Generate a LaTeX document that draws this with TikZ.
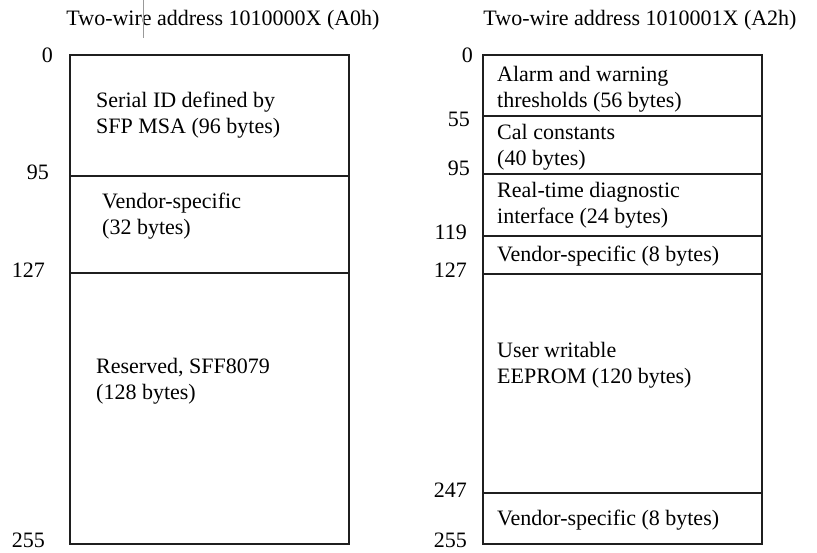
\documentclass[tikz,border=0pt]{standalone}
\usepackage{fontspec}
\setmainfont{Liberation Serif}
\begin{document}
\begin{tikzpicture}[x=1pt,y=-1pt,
  box/.style={draw=black!88,line width=1.3pt},
  txt/.style={anchor=west,align=left,inner sep=0pt,font=\fontsize{22}{26}\selectfont},
  num/.style={anchor=east,inner sep=0pt,font=\fontsize{22}{26}\selectfont},
  ttl/.style={inner sep=0pt,font=\fontsize{22}{26}\selectfont}]
\path[use as bounding box,fill=white] (0,0) rectangle (817,552);
% titles
\node[ttl] (t1) at (223,20) {Two-wire address 1010000X (A0h)};
\node[ttl] (t2) at (640,20) {Two-wire address 1010001X (A2h)};
\draw[draw=black!40,line width=0.8pt] (143,0) -- (143,38);
% left map
\draw[box] (70,55) rectangle (349,544);
\draw[box] (70,176) -- (349,176);
\draw[box] (70,273) -- (349,273);
\node[txt] (l1) at (96,115) {Serial ID defined by\\SFP MSA (96 bytes)};
\node[txt] (l2) at (102,216) {Vendor-specific\\(32 bytes)};
\node[txt] (l3) at (96,381) {Reserved, SFF8079\\(128 bytes)};
\node[num] (n0) at (53,55) {0};
\node[num] (n95) at (49,172) {95};
\node[num] (n127) at (45,270) {127};
\node[num] (n255) at (45,540) {255};
% right map
\draw[box] (483,55) rectangle (762,544);
\draw[box] (483,116) -- (762,116);
\draw[box] (483,174) -- (762,174);
\draw[box] (483,236) -- (762,236);
\draw[box] (483,274) -- (762,274);
\draw[box] (483,493) -- (762,493);
\node[txt] (r1) at (497,89) {Alarm and warning\\thresholds (56 bytes)};
\node[txt] (r2) at (497,147) {Cal constants\\(40 bytes)};
\node[txt] (r3) at (497,205) {Real-time diagnostic\\interface (24 bytes)};
\node[txt] (r4) at (497,256) {Vendor-specific (8 bytes)};
\node[txt] (r5) at (497,365) {User writable\\EEPROM (120 bytes)};
\node[txt] (r6) at (497,520) {Vendor-specific (8 bytes)};
\node[num] (m0) at (473,55) {0};
\node[num] (m55) at (470,119) {55};
\node[num] (m95) at (470,168) {95};
\node[num] (m119) at (467,232) {119};
\node[num] (m127) at (467,270) {127};
\node[num] (m247) at (467,490) {247};
\node[num] (m255) at (467,540) {255};
\end{tikzpicture}
\end{document}
